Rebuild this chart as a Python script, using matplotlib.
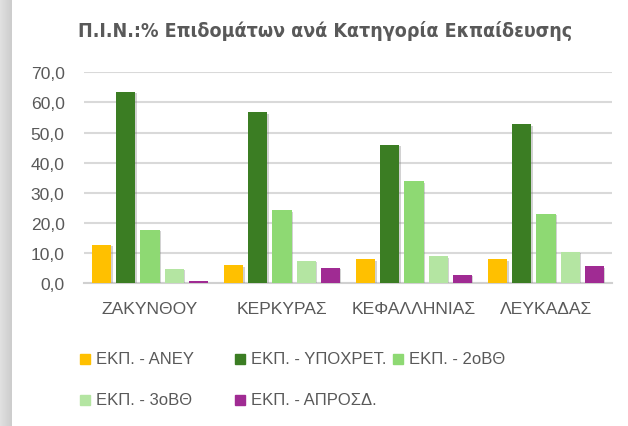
import numpy as np
import matplotlib
matplotlib.use("Agg")
import matplotlib.pyplot as plt
import matplotlib.patheffects as pe
from matplotlib.ticker import FuncFormatter
from matplotlib import font_manager

# Δεδομένα
nomoi = ["ΖΑΚΥΝΘΟΥ", "ΚΕΡΚΥΡΑΣ", "ΚΕΦΑΛΛΗΝΙΑΣ", "ΛΕΥΚΑΔΑΣ"]
seires = ["ΕΚΠ. - ΑΝΕΥ", "ΕΚΠ. - ΥΠΟΧΡΕΤ.", "ΕΚΠ. - 2οΒΘ", "ΕΚΠ. - 3οΒΘ", "ΕΚΠ. - ΑΠΡΟΣΔ."]
aneu = [12.8, 6.0, 8.0, 7.9]
ypoxret = [63.6, 56.7, 46.0, 52.8]
v2 = [17.8, 24.2, 33.8, 23.1]
v3 = [4.9, 7.5, 9.1, 10.5]
aprosd = [0.8, 5.2, 2.9, 5.6]
timi = [aneu, ypoxret, v2, v3, aprosd]
xromata = ["#FFC000", "#3B7D23", "#8ED973", "#B4E5A2", "#A02B93"]

gkri = "#595959"
plt.rcParams['font.family'] = ['Liberation Sans', 'DejaVu Sans']

fig = plt.figure(figsize=(6.28, 4.27), dpi=100)
ax = fig.add_axes([84/628, 1-284.3/427, 528/628, 211/427])

# Λωρίδα αριστερά
ax_l = fig.add_axes([0, 0, 12/628, 1])
grad = np.linspace(0.88, 0.80, 50).reshape(1, -1)
ax_l.imshow(grad, cmap='gray', vmin=0, vmax=1, aspect='auto')
ax_l.axis('off')

x = np.arange(len(nomoi))
platos = 0.144
vima = 0.182
skia = [pe.SimplePatchShadow(offset=(1.2, -1.2), shadow_rgbFace='#808080', alpha=0.35), pe.Normal()]
for i in range(len(seires)):
    b = ax.bar(x + (i - 2) * vima, timi[i], width=platos, color=xromata[i],
               label=seires[i], zorder=3)
    for r in b:
        r.set_path_effects(skia)

ax.set_xlim(-0.5, 3.5)
ax.set_ylim(0, 70)
ax.set_yticks(np.arange(0, 71, 10))
ax.yaxis.set_major_formatter(FuncFormatter(lambda v, p: f"{v:.1f}".replace(".", ",")))
ax.set_xticks(x)
ax.set_xticklabels(nomoi)
ax.grid(axis='y', color='#D9D9D9', linewidth=1.5, zorder=0)
for s in ['top', 'right', 'left']:
    ax.spines[s].set_visible(False)
ax.spines['bottom'].set_color('#D0D0D0')
ax.spines['bottom'].set_linewidth(1.5)
ax.tick_params(axis='both', length=0, colors=gkri, labelsize=12.6)
ax.tick_params(axis='y', pad=14)
ax.tick_params(axis='x', pad=13)

# τίτλος με στενή γραμματοσειρά αν υπάρχει
titlos_font = font_manager.FontProperties(family='DejaVu Sans', stretch='condensed',
                                          weight='bold', size=14)
fig.text(0.518, 1-31/427, "Π.Ι.Ν.:% Επιδομάτων ανά Κατηγορία Εκπαίδευσης",
         ha='center', va='center', color=gkri, fontproperties=titlos_font)

# Υπόμνημα
thesi = [(80, 360), (235, 360), (393, 360), (80, 401), (235, 401)]
for i, (px, py) in enumerate(thesi):
    fig.patches.append(plt.Rectangle((px/628, (427-py-5)/427), 10/628, 10/427,
                                     transform=fig.transFigure, color=xromata[i]))
    fig.text((px+16)/628, 1-py/427, seires[i], ha='left', va='center',
             fontsize=12, color=gkri)

fig.savefig("out.png", dpi=100)
